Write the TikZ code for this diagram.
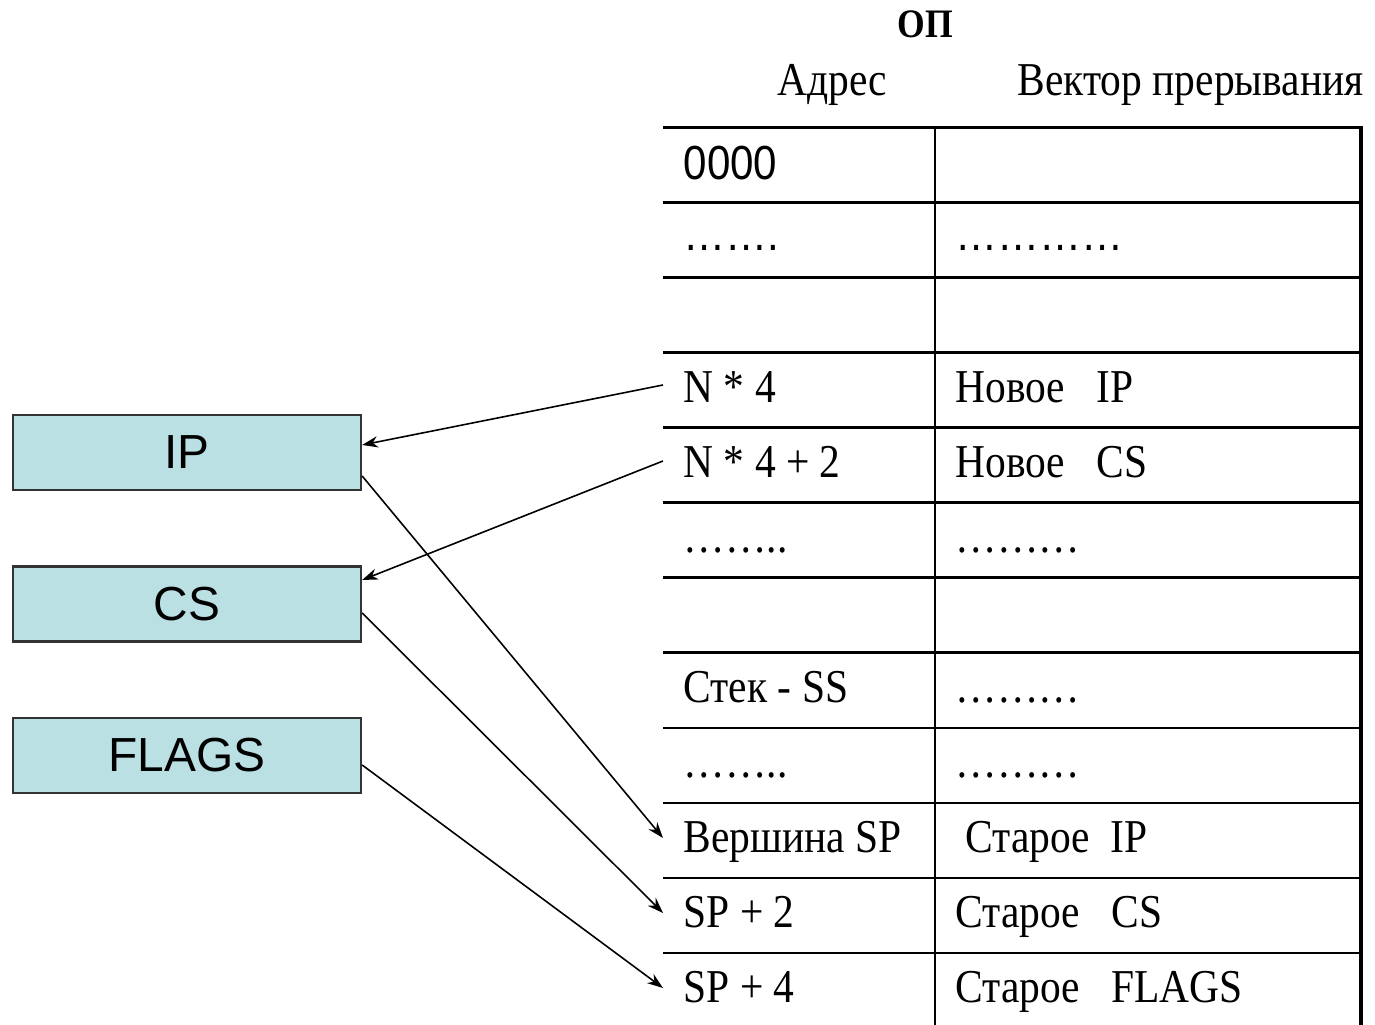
\documentclass[tikz,border=0pt]{standalone}
\usepackage{fontspec}
\setmainfont[FakeStretch=0.88]{Liberation Serif}
\newfontfamily\arialfont[FakeStretch=0.88]{Liberation Sans}
\newfontfamily\boxfont{Liberation Sans}
\usetikzlibrary{arrows.meta,positioning}
\definecolor{regfill}{RGB}{186,224,227}
\tikzset{
  reg/.style={draw=black!80, line width=0.6pt, fill=regfill, minimum width=3.48cm,
    minimum height=0.75cm, font=\boxfont\fontsize{13.6}{16}\selectfont},
  cell/.style={anchor=base west, inner sep=0pt, font=\fontsize{13.4}{16}\selectfont},
  sanscell/.style={cell, font=\arialfont\fontsize{13.6}{16}\selectfont},
  link/.style={-{Stealth[length=4.5pt,width=3.2pt]}, line width=0.45pt},
}

\begin{document}
\begin{tikzpicture}[x=0.01cm,y=-0.01cm]
    \useasboundingbox (0,0) rectangle (1375,1025);

    % Header
    \node[font=\bfseries\fontsize{11.5}{14}\selectfont] (op) at (925,24) {ОП};
    \node[cell] (adr) at (777,96) {Адрес};
    \node[cell] (vec) at (1017,96) {Вектор прерывания};

    % Draw the table
    \foreach \y in {128,203,...,953}
        \draw[line width=0.85pt] (663,\y) -- (1362,\y);
    \draw[line width=0.55pt] (935,128) -- (935,1025);
    \draw[line width=1.2pt] (1361,126) -- (1361,1025);

    % Cells
    \node[sanscell] (a0) at (683,180) {0000};
    \node[sanscell] (a1) at (683,251) {…….};
    \node[sanscell] (v1) at (955,251) {…………};
    \node[cell] (a3) at (683,403) {N * 4};
    \node[cell] (v3) at (955,403) {Новое~~~IP};
    \node[cell] (a4) at (683,478) {N * 4 + 2};
    \node[cell] (v4) at (955,478) {Новое~~~CS};
    \node[cell] (a5) at (683,553) {……..};
    \node[cell] (v5) at (955,553) {………};
    \node[cell] (a7) at (683,703) {Стек - SS};
    \node[cell] (v7) at (955,703) {………};
    \node[cell] (a8) at (683,778) {……..};
    \node[cell] (v8) at (955,778) {………};
    \node[cell] (a9) at (683,853) {Вершина SP};
    \node[cell] (v9) at (965,853) {Старое~~IP};
    \node[cell] (a10) at (683,928) {SP + 2};
    \node[cell] (v10) at (955,928) {Старое~~~CS};
    \node[cell] (a11) at (683,1003) {SP + 4};
    \node[cell] (v11) at (955,1003) {Старое~~~FLAGS};

    % Registers
    \node[reg] (ip) at (187,452.5) {IP};
    \node[reg] (cs) at (187,604) {CS};
    \node[reg] (flags) at (187,755.5) {FLAGS};

    % Ends of the arrows at the table
    \coordinate (nip) at (663,385);
    \coordinate (ncs) at (663,461);
    \coordinate (top) at (663,838);
    \coordinate (sp2) at (663,913);
    \coordinate (sp4) at (663,988);

    % Draw arrows
    \draw[link] (nip) -- ([yshift=0.075cm]ip.east);
    \draw[link] (ncs) -- ([yshift=0.24cm]cs.east);
    \draw[link] ([yshift=-0.235cm]ip.east) -- (top);
    \draw[link] ([yshift=-0.09cm]cs.east) -- (sp2);
    \draw[link] ([yshift=-0.095cm]flags.east) -- (sp4);
\end{tikzpicture}
\end{document}
